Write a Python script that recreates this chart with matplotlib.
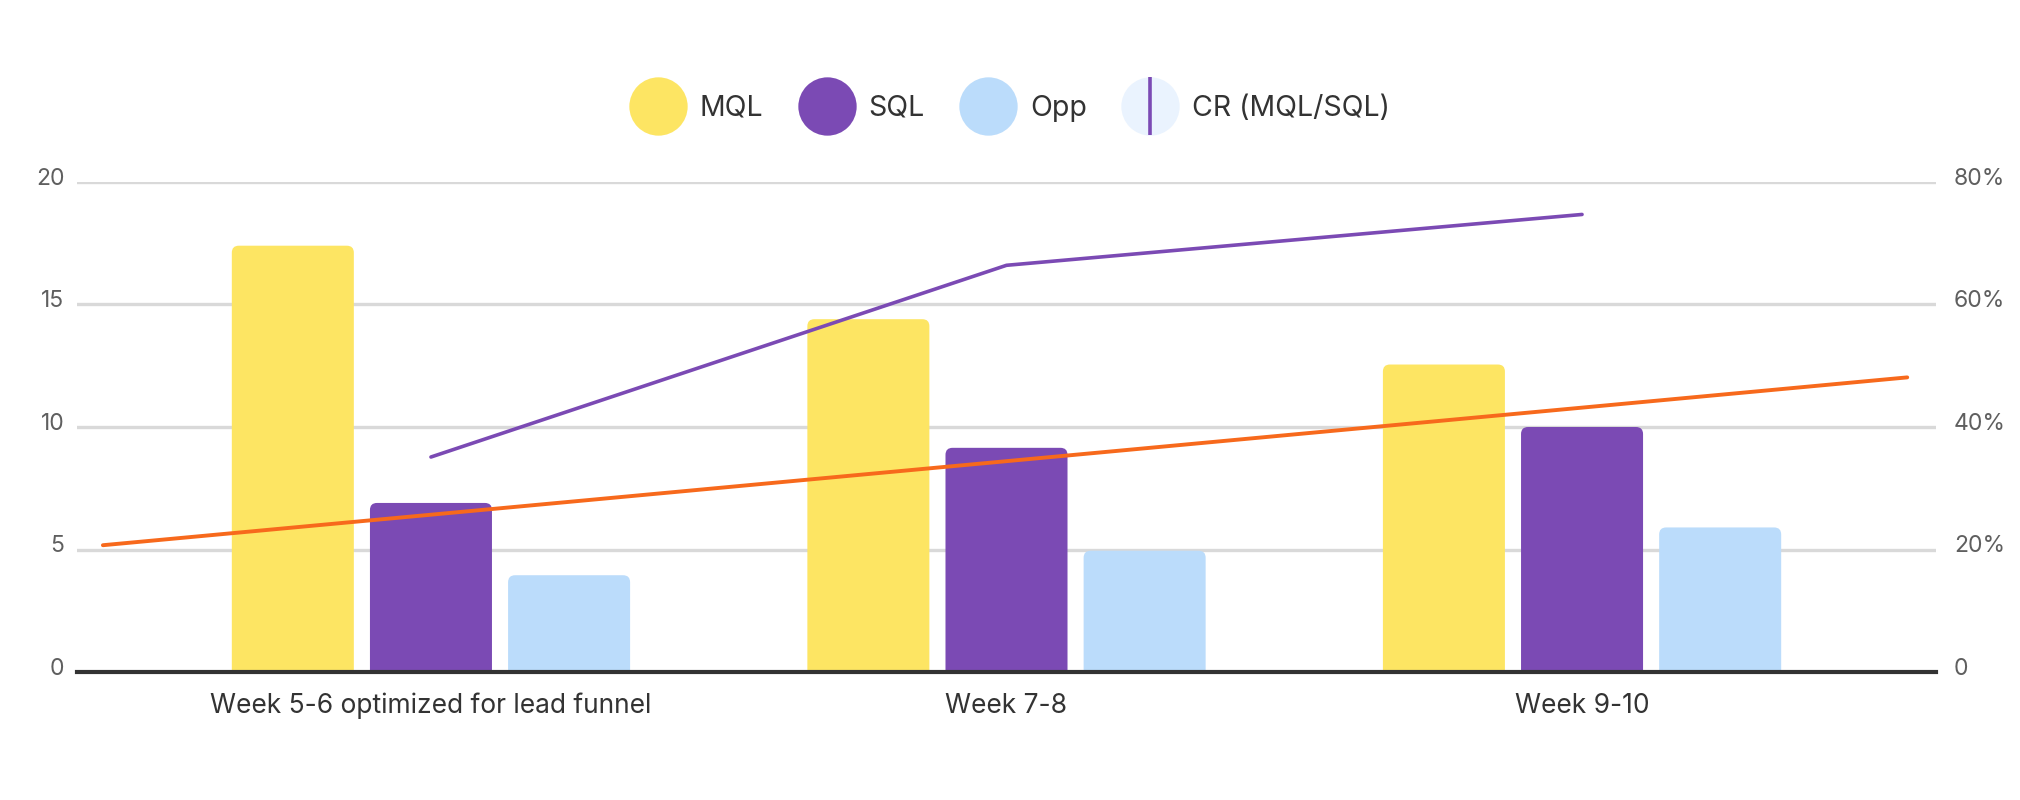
import matplotlib
matplotlib.use("Agg")
import matplotlib.pyplot as plt
from matplotlib.lines import Line2D
from matplotlib.patches import FancyBboxPatch
from matplotlib.legend_handler import HandlerTuple
import matplotlib.transforms as mtransforms
import numpy as np

plt.rcParams['font.family'] = ['Inter', 'DejaVu Sans']

categories = ["Week 5-6 optimized for lead funnel", "Week 7-8", "Week 9-10"]
mql = [17.4, 14.4, 12.55]
sql = [6.9, 9.15, 10.0]
opp = [3.95, 4.95, 5.9]
cr = [35.1, 66.4, 74.7]          # percent, right axis
trend_x = [-0.57, 2.565]
trend_y = [20.7, 48.1]            # percent, right axis
left_ticks = [0, 5, 10, 15, 20]
right_ticks = [0, 20, 40, 60, 80]
right_labels = ["0", "20%", "40%", "60%", "80%"]

YELLOW = "#FDE563"
PURPLE = "#7B4AB4"
BLUE = "#BBDCFB"
ORANGE = "#F7691C"
PALE = "#EAF3FE"

fig = plt.figure(figsize=(20.2, 8), dpi=100)
ax = fig.add_axes([77 / 2020, 1 - 672 / 800, (1936 - 77) / 2020, (672 - 182) / 800])
ax2 = ax.twinx()

x = np.arange(len(categories))
w = 0.212
step = 0.24

# bars with rounded top corners
r_x = 7 / 576
aspect = (20 / 490) / (1 / 576)
for vals, off, col in [(mql, -step, YELLOW), (sql, 0, PURPLE), (opp, step, BLUE)]:
    bars = ax.bar(x + off, vals, width=w, color=col)
    for b in bars:
        b.set_visible(False)
        pad = r_x * aspect
        p = FancyBboxPatch((b.get_x(), -pad), b.get_width(), b.get_height() + pad,
                           boxstyle=f"round,pad=0,rounding_size={r_x}",
                           mutation_aspect=aspect, fc=col, ec="none", zorder=2)
        ax.add_patch(p)

ax.set_xlim(-0.615, 2.615)
ax.set_ylim(0, 20)
ax.set_yticks(left_ticks)
ax.set_xticks(x)
ax.set_xticklabels(categories, fontsize=19, color="#333333")
ax.tick_params(axis='x', length=0, pad=15)
ax.tick_params(axis='y', length=0, pad=9, labelsize=16.5, labelcolor="#5f5f5f")
ax.grid(axis='y', color="#D9D9D9", lw=2.4, zorder=0)
ax.set_axisbelow(True)
for s in ["top", "left", "right"]:
    ax.spines[s].set_visible(False)
ax.spines["bottom"].set_color("#333333")
ax.spines["bottom"].set_linewidth(3)
ax.spines["bottom"].set_zorder(5)

ax2.plot(x, cr, color=PURPLE, lw=2.6, solid_capstyle='round', zorder=4)
ax2.plot(trend_x, trend_y, color=ORANGE, lw=2.8, solid_capstyle='round', zorder=4)
ax2.set_ylim(0, 80)
ax2.set_yticks(right_ticks)
ax2.set_yticklabels(right_labels)
ax2.tick_params(axis='y', length=0, pad=13, labelsize=16.5, labelcolor="#5f5f5f")
for s in ["top", "left", "right", "bottom"]:
    ax2.spines[s].set_visible(False)

offset = mtransforms.ScaledTranslation(0, 4 / 72, fig.dpi_scale_trans)
for lab in ax.get_yticklabels() + ax2.get_yticklabels():
    lab.set_transform(lab.get_transform() + offset)

ms = 42
handles = [
    Line2D([], [], ls='none', marker='o', ms=ms, mfc=YELLOW, mec='none'),
    Line2D([], [], ls='none', marker='o', ms=ms, mfc=PURPLE, mec='none'),
    Line2D([], [], ls='none', marker='o', ms=ms, mfc=BLUE, mec='none'),
    (Line2D([], [], ls='none', marker='o', ms=ms, mfc=PALE, mec='none'),
     Line2D([], [], ls='none', marker='|', ms=ms, mew=2.6, color=PURPLE)),
]
fig.legend(handles, ["MQL", "SQL", "Opp", "CR (MQL/SQL)"],
           handler_map={tuple: HandlerTuple(ndivide=1)},
           loc='center', bbox_to_anchor=(0.5, 1 - 108 / 800), ncol=4, frameon=False,
           fontsize=20.5, labelcolor="#333333", handlelength=1.95, handletextpad=0.5,
           columnspacing=1.25)

fig.savefig("out.png", dpi=100, facecolor="white")
